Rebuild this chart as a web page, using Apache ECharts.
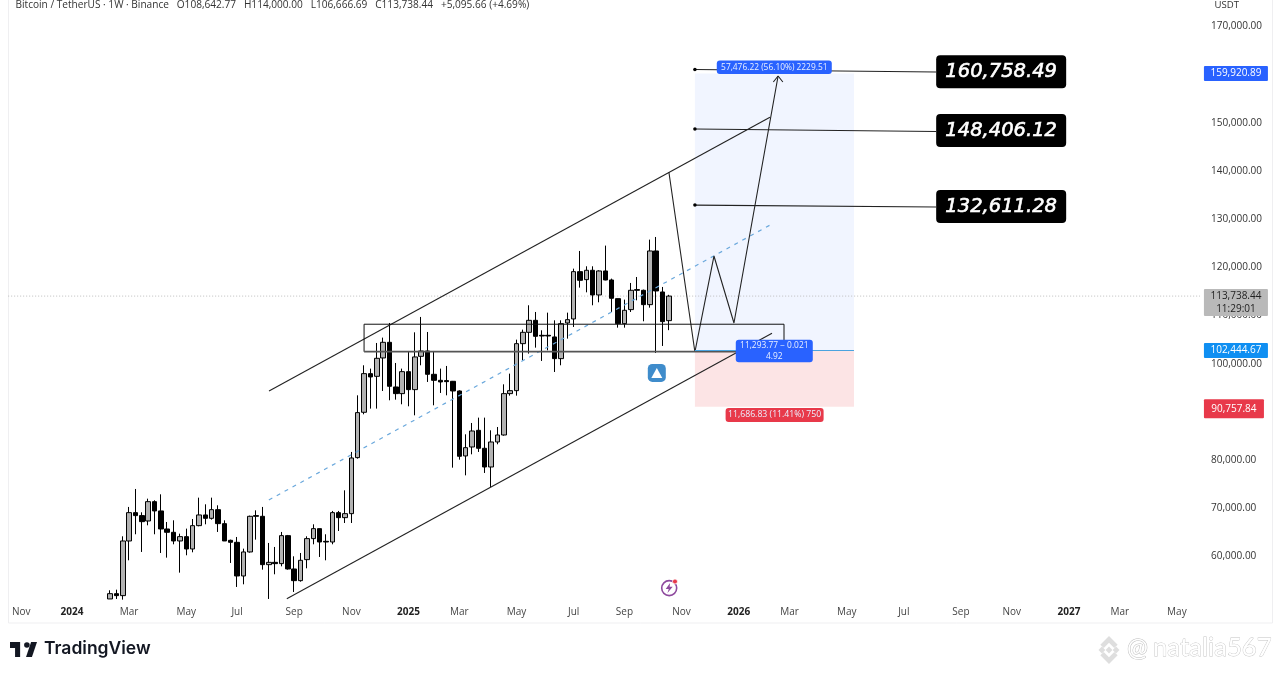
<!DOCTYPE html>
<html><head><meta charset="utf-8">
<style>html,body{margin:0;padding:0;background:#fff}#c{width:1280px;height:676px}</style>
<script src="https://cdn.jsdelivr.net/npm/echarts@6/dist/echarts.min.js"></script>
</head><body><div id="c"></div>
<script>
// weekly candles, first candle is the 12 Feb 2024 week (week index 16)
const firstCandle = 16;
const opens = [50900,52000,51590,62930,68810,68190,67080,71090,69160,65420,64730,62930,63830,61270,66110,68330,67630,69430,66530,63070,62650,55670,60650,68190,68050,58020,58500,58230,64040,57120,54700,59060,63420,65490,62860,62720,68810,67770,68600,
80220,89630,97650,97090,100900,104150,94880,93500,98060,94330,101240,102350,97510,96260,96200,96060,94050,80570,82430,85890,82160,78280,83470,84920,93500,
94120,103870,106220,108710,105600,105600,105260,100760,108160,108990,118810,117150,119090,113970,118950,117080,113210,108020,110930,115080,114940,111960,123100,114590,108642.77];
const closes = [52000,51590,62930,68810,68190,66940,71090,69160,65420,64730,62930,63830,61270,66110,68330,67630,69430,66530,62930,62650,55670,60650,68050,68050,58020,58500,58230,64040,57120,54700,58920,63420,65490,62720,62720,68810,67770,68600,80150,
89560,97650,96960,100830,104150,95020,93500,98060,94330,101110,102350,97510,96260,95920,95990,94050,80500,82290,85750,82160,78280,83470,84920,93500,94120,
103870,106220,108710,105390,105460,105460,100760,108020,108850,118810,117010,119090,113970,118950,117080,113280,108020,110790,114940,114940,111960,123100,114800,108440,113738.44];
const lows = [50900,50900,50760,58920,64320,60650,66180,64320,60440,59470,62240,56360,59960,60580,65970,66390,67360,64800,62930,58370,53390,53940,60510,63210,56980,50900,56020,57670,56980,52350,54490,57260,62240,59610,58920,62240,65000,66660,66660,
80010,89210,90390,90390,94050,92120,92250,91290,90870,89000,99380,95920,91080,93640,93150,78140,79800,76550,80910,81400,77040,74130,82990,84780,93080,
93080,100410,101800,103040,100280,102490,97990,99380,104910,107330,115490,114520,111830,112450,117010,110440,107190,107190,110440,112860,108510,111340,101940,103390,106666.69];
const highs = [52700,52830,63900,69990,73720,68880,71710,71370,72610,66870,67220,64450,65490,67490,71920,70540,71920,70330,67220,63210,63760,61340,68190,69290,69990,62520,61690,64800,64180,59750,60440,63900,66390,65490,64320,69160,69160,73440,81400,
93150,99380,98690,104010,105120,108160,99860,98690,102350,106220,109410,106290,102350,98690,99240,96130,94190,85060,87410,88520,88520,85890,86580,95430,97650,
104700,106780,111830,110440,106640,110300,108710,108710,110300,119430,123100,119920,119920,119090,124210,117360,113210,113000,116460,117700,115080,125450,126000,115630,114000];

const weekCount = 188;
const categories = [];
for (let i = 0; i < weekCount; i++) {
  categories.push(new Date(Date.UTC(2023, 9, 23 + i * 7)).toISOString().slice(0, 10));
}
const tickLabels = {
  '2023-11-06':'Nov','2024-01-01':'2024','2024-03-04':'Mar','2024-05-06':'May','2024-07-01':'Jul','2024-09-02':'Sep','2024-11-04':'Nov',
  '2025-01-06':'2025','2025-03-03':'Mar','2025-05-05':'May','2025-07-07':'Jul','2025-09-01':'Sep','2025-11-03':'Nov',
  '2026-01-05':'2026','2026-03-02':'Mar','2026-05-04':'May','2026-07-06':'Jul','2026-09-07':'Sep','2026-11-02':'Nov',
  '2027-01-04':'2027','2027-03-01':'Mar','2027-05-03':'May'
};
const yearLabels = ['2024','2025','2026','2027'];

// drawings: [week index, price]
const channelUpper = [[41.03,94045],[119.92,150830]];
const channelLower = [[43.83,50953],[120.24,106017]];
const channelMid = [[41,71432],[120.24,128693]];
const forecastPath = [[104,139480],[108.1,102137],[111.1,122050],[114.25,108153],[121.2,159400]];
const arrowHead = [[120.45,158150],[121.2,159400],[121.95,158150]];
const boxOutline = [[56,102200],[56,107900],[122.13,107900],[122.13,102200]];
const boxBase = [[56,102200],[122.13,102200]];
const targets = [
  {text:'160,758.49', from:[108.1,160758.49], to:[146.07,160230], box:[156.33,160300]},
  {text:'148,406.12', from:[108.1,148406.12], to:[146.07,147880], box:[156.33,148100]},
  {text:'132,611.28', from:[108.1,132611.28], to:[146.07,132220], box:[156.33,132320]}
];
const zoneX = [108.1,133.15];
const entryPrice = 102444.67, targetPrice = 159920.89, stopPrice = 90757.84, lastPrice = 113738.44;
const rrLabels = [
  {text:'57,476.22 (56.10%) 2229.51', at:[120.6,161200], w:115, h:13.5, color:'#2962ff', size:8.4},
  {text:'11,293.77 − 0.021\n4.92', at:[120.6,102344], w:77, h:22.5, color:'#2962ff', size:8.4},
  {text:'11,686.83 (11.41%) 750', at:[120.65,89066], w:98, h:14, color:'#e8394a', size:8.7}
];
const priceTags = [
  {text:'159,920.89', price:159920.89, color:'#2962ff', fg:'#fff', w:64, h:15, off:[0,0]},
  {text:'113,738.44\n11:29:01', price:113738.44, color:'#b9b9b9', fg:'#222', w:64, h:27, off:[0,6.5]},
  {text:'102,444.67', price:102444.67, color:'#0f8ff2', fg:'#fff', w:64, h:15, off:[0,0]},
  {text:'90,757.84', price:90757.84, color:'#e8394a', fg:'#fff', w:60, h:19, off:[-2,2]}
];
const tagColumnX = 193.3;
const badgeAt = [102.1,97800];
const boltAt = [104.05,53150];
const boltDotAt = [104.96,54522];

const uiFont = '"Open Sans","Noto Sans",sans-serif';
const pad = new Array(firstCandle).fill(['-','-','-','-']);
const ohlc = pad.concat(opens.map((o,i)=>[o,closes[i],lows[i],highs[i]]));
while (ohlc.length < weekCount) ohlc.push(['-','-','-','-']);

function drawing(data, color, width, type, z) {
  return {type:'line', xAxisIndex:1, yAxisIndex:0, data, symbol:'none', silent:true, clip:false, z:z||5,
    lineStyle:{color, width:width||1, type:type||'solid'}};
}
function marker(point, symbol, size, itemStyle, z) {
  return {type:'scatter', xAxisIndex:1, yAxisIndex:0, data:[point], symbol, symbolSize:size,
    itemStyle:Object.assign({opacity:1}, itemStyle), z, silent:true, clip:false};
}
function boxLabel(item) {
  return {type:'scatter', xAxisIndex:1, yAxisIndex:0, clip:false, symbolSize:0.1, silent:true, z:8,
    itemStyle:{opacity:1}, data:[item.at],
    label:{show:true, position:'inside', formatter:item.text, width:item.w, height:item.h,
      lineHeight:item.text.includes('\n')?10.5:item.h, backgroundColor:item.color, borderRadius:3, color:'#eaf0ff',
      fontSize:item.size, fontFamily:uiFont, align:'center', verticalAlign:'middle'}};
}

const series = [
  {type:'line', xAxisIndex:1, yAxisIndex:0, data:[], symbol:'none', z:1, silent:true,
    markArea:{silent:true, z:1, data:[
      [{xAxis:zoneX[0],yAxis:entryPrice,itemStyle:{color:'#f1f5ff',opacity:1}},{xAxis:zoneX[1],yAxis:targetPrice}],
      [{xAxis:zoneX[0],yAxis:stopPrice,itemStyle:{color:'#fce4e5',opacity:1}},{xAxis:zoneX[1],yAxis:entryPrice}]
    ]}},
  drawing([[-0.05,lastPrice],[188.4,lastPrice]],'#bdbdbd',1,[1,2],1),
  {type:'candlestick', xAxisIndex:0, yAxisIndex:0, data:ohlc, barWidth:5, silent:true, z:3,
    itemStyle:{color:'#b2b2b2', color0:'#000', borderColor:'#000', borderColor0:'#000', borderWidth:1}},
  drawing(channelUpper,'#222',1.1),
  drawing(channelLower,'#222',1.1),
  drawing(channelMid,'#6aa8dc',1.2,[4,5]),
  drawing(forecastPath,'#222',1.1),
  drawing(arrowHead,'#222',1.1),
  drawing(boxOutline,'#111',1),
  drawing(boxBase,'#555',1.8),
  drawing([[zoneX[0],entryPrice],[zoneX[1],entryPrice]],'#4aa3df',1.2,'solid',6)
];
targets.forEach(t=>{
  series.push(drawing([t.from,t.to],'#222',1.1));
  series.push(marker(t.from,'circle',3.5,{color:'#000'},6));
  series.push({type:'scatter', xAxisIndex:1, yAxisIndex:0, clip:false, symbolSize:0.1, z:8, silent:true, itemStyle:{opacity:1}, data:[t.box],
    label:{show:true, position:'inside', formatter:t.text, width:130, height:33, lineHeight:33, backgroundColor:'#000', borderRadius:4,
      color:'#fff', fontSize:19.5, fontStyle:'italic', fontFamily:'"DejaVu Sans"', textBorderColor:'#fff', textBorderWidth:0.6,
      align:'center', verticalAlign:'middle'}});
});
rrLabels.forEach(l=>series.push(boxLabel(l)));
priceTags.forEach(t=>{
  series.push({type:'scatter', xAxisIndex:1, yAxisIndex:0, clip:false, symbolSize:0.1, z:9, silent:true, itemStyle:{opacity:1}, data:[[tagColumnX,t.price]],
    label:{show:true, position:'inside', offset:t.off, formatter:t.text, width:t.w, height:t.h, lineHeight:t.text.includes('\n')?13:t.h,
      backgroundColor:t.color, borderRadius:1, color:t.fg, fontSize:10, fontFamily:uiFont, align:'center', verticalAlign:'middle'}});
});
series.push(marker(badgeAt,'roundRect',18,{color:'#3f8ccb'},7));
series.push(marker(badgeAt,'triangle',[11,10],{color:'#fff'},8));
series.push(marker(boltAt,'circle',15,{color:'#fff',borderColor:'#8e4a9e',borderWidth:1.6},7));
series.push(marker(boltAt,'path://M6 0L1 7H4.5L3 12L9 4.5H5.5Z',[7,10],{color:'#8e4a9e'},8));
series.push(marker(boltDotAt,'circle',5,{color:'#e8394a',borderColor:'#fff',borderWidth:0.8},8));

function polyShapes(polys, ox, oy, sx, sy, fill) {
  return polys.map(p=>({type:'polygon', silent:true, shape:{points:p.map(q=>[ox+q[0]*sx, oy+q[1]*sy])}, style:{fill}}));
}
const tvLogo = [[[0,0],[12,0],[12,15],[6,15],[6,6],[0,6]],[[19,15],[25,0],[32,0],[26,15]]];
const bnbLogo = [[[16,12.1],[19.9,16],[16,19.9],[12.1,16]],[[4,16],[7.9,12.1],[11.8,16],[7.9,19.9]],[[20.2,16],[24.1,12.1],[28,16],[24.1,19.9]],
  [[16,0],[25.9,9.9],[22,13.8],[16,7.8],[10,13.8],[6.1,9.9]],[[16,32],[25.9,22.1],[22,18.2],[16,24.2],[10,18.2],[6.1,22.1]]];

const chart = echarts.init(document.getElementById('c'), null, {renderer:'canvas'});
chart.setOption({
  animation:false,
  backgroundColor:'#fff',
  grid:{left:5.3, width:1193.8, top:0.8, height:602.5, containLabel:false},
  xAxis:[
    {type:'category', data:categories, boundaryGap:true, axisLine:{show:false}, axisTick:{show:false}, splitLine:{show:false},
      axisLabel:{interval:(i,v)=>!!tickLabels[v], margin:4, fontSize:10, color:'#444', fontFamily:uiFont, hideOverlap:false,
        formatter:v=>{const t=tickLabels[v]||''; return yearLabels.includes(t)?'{y|'+t+'}':t;},
        rich:{y:{fontSize:10,fontWeight:'bold',color:'#222',fontFamily:uiFont}}}},
    {type:'value', min:-0.5, max:187.5, show:false, splitLine:{show:false}}
  ],
  yAxis:[{type:'value', position:'right', min:50000, max:175000, interval:10000, scale:true,
    axisLine:{show:false}, axisTick:{show:false}, splitLine:{show:false},
    axisLabel:{margin:12, fontSize:10, color:'#333', fontFamily:uiFont, showMinLabel:false, showMaxLabel:false,
      formatter:v=>'{p|'+v.toLocaleString('en-US',{minimumFractionDigits:2,maximumFractionDigits:2})+'}',
      rich:{p:{fontSize:10,color:'#333',fontFamily:uiFont,padding:[3,0,0,0]}}}}],
  series,
  graphic:[
    {type:'rect', silent:true, z:0, shape:{x:8.5,y:-2,width:1264,height:625}, style:{fill:'none',stroke:'#efeff1',lineWidth:1}},
    {type:'text', silent:true, style:{x:15.5,y:0,text:'Bitcoin / TetherUS · 1W · Binance   O108,642.77   H114,000.00   L106,666.69   C113,738.44   +5,095.66 (+4.69%)',fill:'#333',font:'10.1px '+uiFont}},
    {type:'text', silent:true, style:{x:1214.5,y:0.5,text:'USDT',fill:'#333',font:'9.6px '+uiFont}},
    ...polyShapes(tvLogo,10,642,27/32,1,'#131722'),
    {type:'circle', silent:true, shape:{cx:26.9,cy:645,r:2.8}, style:{fill:'#131722'}},
    {type:'text', silent:true, style:{x:44,y:640,text:'TradingView',fill:'#131722',font:'600 17.5px Inter'}},
    ...polyShapes(bnbLogo,1095,636,28/32,28/32,'#dedede'),
    {type:'text', silent:true, style:{x:1127,y:635,text:'@',fill:'#fff',stroke:'#bdbdbd',lineWidth:1,font:'25px Lato'}},
    {type:'text', silent:true, style:{x:1153,y:635,text:'natalia567',fill:'#fff',stroke:'#c4c4c4',lineWidth:0.8,font:'25.7px Lato'}}
  ]
});
</script></body></html>
